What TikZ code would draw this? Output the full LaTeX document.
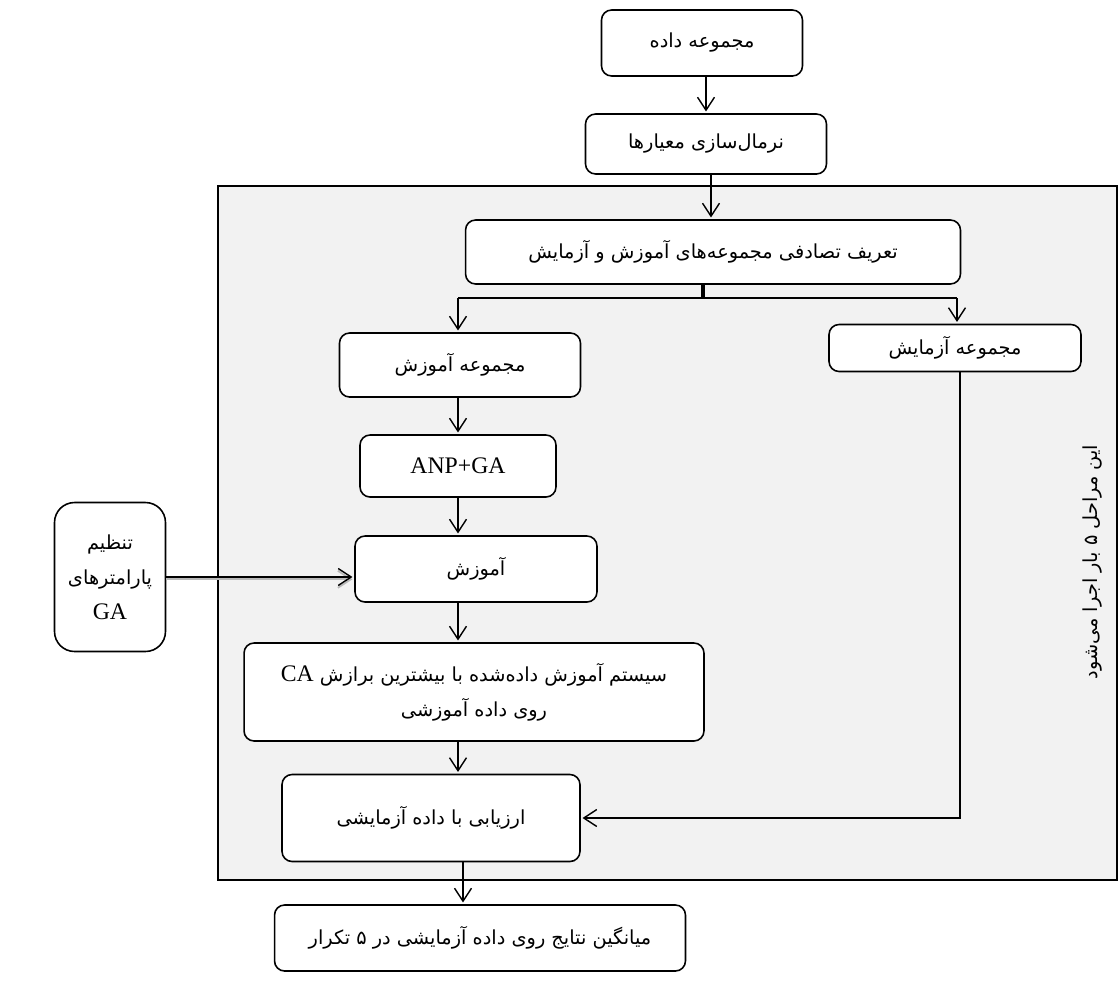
\documentclass[tikz,border=0pt]{standalone}
\usepackage{fontspec}
\setmainfont{Liberation Serif}
\newfontfamily\farsifont[Script=Arabic]{DejaVu Sans}
\TeXXeTstate=1
\usetikzlibrary{arrows.meta}

% Persian line, right to left
\newcommand\fatxt[1]{{\farsifont\beginR #1\endR}}
\newcommand\latintxt[1]{{\normalfont\fontsize{13.5}{16}\selectfont #1}}
\newcommand\zwnj{^^^^200c}

\tikzset{
    box/.style={
        draw,
        rounded corners=2mm,
        fill=white,
        line width=0.9pt,
        align=center,
        inner sep=2pt,
        font=\fontsize{11}{20}\selectfont
    },
    flow/.style={
        -{Straight Barb[length=2.6mm,width=3.4mm]},
        line width=0.8pt,
        shorten >=1pt
    },
    feed/.style={
        flow,
        preaction={draw, gray!55, line width=1pt, transform canvas={yshift=-1.3pt}}
    },
    stage/.style={
        draw,
        fill=black!5,
        line width=0.8pt
    }
}

\begin{document}
\begin{tikzpicture}[x=0.02cm, y=-0.02cm]
    \useasboundingbox (0,0) rectangle (1118,1001);

    % Bereich der wiederholten Schritte
    \path[stage] (218,186) rectangle (1117,880);
    \node[rotate=90, font=\fontsize{11}{14}\selectfont] (repeat) at (1092,562)
        {\fatxt{این مراحل ۵ بار اجرا می\zwnj شود}};

    % Vorbereitung der Daten
    \path
        node[box, minimum width=4.02cm, minimum height=1.32cm] at (702, 43) (data)  {\fatxt{مجموعه داده}}
        node[box, minimum width=4.82cm, minimum height=1.2cm]  at (706,144) (norm)  {\fatxt{نرمال\zwnj سازی معیارها}}
        node[box, minimum width=9.9cm,  minimum height=1.28cm] at (713,252) (split) {\fatxt{تعریف تصادفی مجموعه\zwnj های آموزش و آزمایش}};

    % Trainings- und Testzweig
    \path
        node[box, minimum width=4.82cm, minimum height=1.28cm] at (460,365) (trainset) {\fatxt{مجموعه آموزش}}
        node[box, minimum width=5.04cm, minimum height=0.94cm] at (955,348) (testset)  {\fatxt{مجموعه آزمایش}}
        node[box, minimum width=3.92cm, minimum height=1.24cm] at (458,466) (anp) {\latintxt{ANP+GA}}
        node[box, minimum width=4.84cm, minimum height=1.32cm] at (476,569) (train) {\fatxt{آموزش}}
        node[box, minimum width=2.22cm, minimum height=2.98cm, rounded corners=4mm] at (110,577) (params)
            {\fatxt{تنظیم}\\\fatxt{پارامترهای}\\\latintxt{GA}}
        node[box, minimum width=9.2cm, minimum height=1.96cm] at (474,692) (system)
            {\fatxt{سیستم آموزش داده\zwnj شده با بیشترین برازش \beginL\latintxt{CA}\endL}\\\fatxt{روی داده آموزشی}}
        node[box, minimum width=5.96cm, minimum height=1.74cm] at (431,818) (eval) {\fatxt{ارزیابی با داده آزمایشی}}
        node[box, minimum width=8.22cm, minimum height=1.32cm] at (480,938) (mean) {\fatxt{میانگین نتایج روی داده آزمایشی در ۵ تکرار}};

    % Verzweigung
    \coordinate (fork)  at (703,298);
    \coordinate (forkL) at (458,298);
    \coordinate (forkR) at (957,298);

    \draw[line width=2.2pt] (split.south -| fork) -- (fork);
    \draw[line width=0.8pt] (forkL) -- (forkR);

    % Hauptfluss
    \draw[flow] (norm.north |- data.south) -- (norm.north);
    \draw[flow] (norm.south -| 711,0) -- (split.north -| 711,0);
    \draw[flow] (forkL) -- (trainset.north -| forkL);
    \draw[flow] (forkR) -- (testset.north -| forkR);
    \draw[flow] (trainset.south -| forkL) -- (anp.north -| forkL);
    \draw[flow] (anp.south -| forkL) -- (train.north -| forkL);
    \draw[flow] (train.south -| forkL) -- (system.north -| forkL);
    \draw[flow] (system.south -| forkL) -- (eval.north -| forkL);
    \draw[flow] (eval.south -| 463,0) -- (mean.north -| 463,0);

    % Testdaten zur Auswertung, Parameter zum Training
    \draw[flow] (testset.south -| 960,0) |- (eval.east);
    \draw[feed] (params.east) -- (params.east -| train.west);
\end{tikzpicture}
\end{document}
